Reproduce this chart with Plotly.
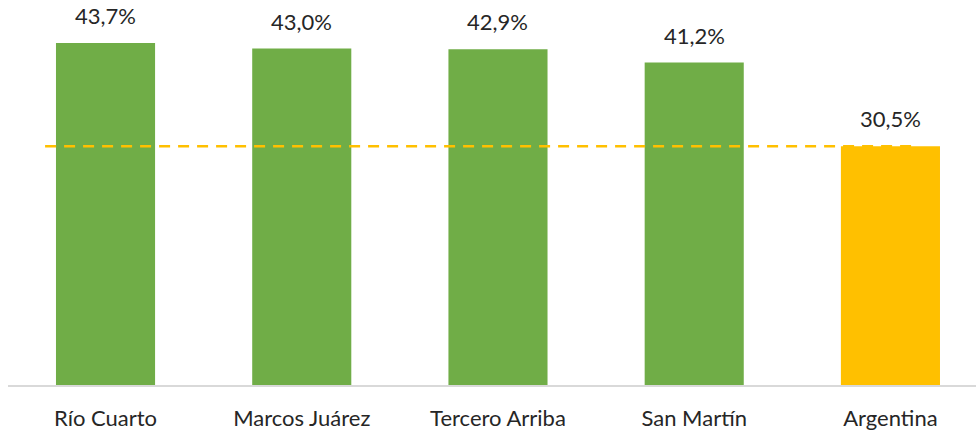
import plotly.graph_objects as go

categories = ["Río Cuarto", "Marcos Juárez", "Tercero Arriba", "San Martín", "Argentina"]
values = [43.7, 43.0, 42.9, 41.2, 30.5]
bar_colors = ["#70AD47", "#70AD47", "#70AD47", "#70AD47", "#FFC000"]
labels = [f"{v:.1f}%".replace(".", ",") for v in values]
reference_value = values[-1]

FONT = "Lato, 'Open Sans', sans-serif"
TEXT_COLOR = "#262626"

fig = go.Figure()
fig.add_trace(go.Bar(
    x=list(range(len(categories))),
    y=values,
    marker=dict(color=bar_colors, line=dict(width=0)),
    width=0.505,
    hoverinfo="skip",
))

for i, (v, t) in enumerate(zip(values, labels)):
    fig.add_annotation(
        x=i, y=v, text=t, showarrow=False,
        yanchor="bottom", yshift=12,
        font=dict(family=FONT, size=22, color=TEXT_COLOR),
    )

fig.add_shape(
    type="line", xref="x", yref="y",
    x0=-0.308, x1=4.12, y0=reference_value, y1=reference_value,
    line=dict(color="#FFC000", width=2.5, dash="11px,8px"),
    layer="above",
)

fig.update_layout(
    width=976, height=431,
    margin=dict(l=8, r=0, t=0, b=46),
    paper_bgcolor="white", plot_bgcolor="white",
    showlegend=False,
    font=dict(family=FONT, size=22, color=TEXT_COLOR),
)
fig.update_xaxes(
    range=[-0.497, 4.436],
    tickmode="array",
    tickvals=list(range(len(categories))),
    ticktext=categories,
    showgrid=False, zeroline=False,
    showline=True, linecolor="#D9D9D9", linewidth=1.5,
    ticks="", ticklen=0,
    ticklabelstandoff=13,
    tickfont=dict(family=FONT, size=22, color=TEXT_COLOR),
)
fig.update_yaxes(
    range=[0, 49.2],
    showgrid=False, zeroline=False, showticklabels=False,
    showline=False,
)

fig.write_html(
    "out.html",
    config={"displayModeBar": False},
    post_script="document.body.style.margin='0px';",
)
